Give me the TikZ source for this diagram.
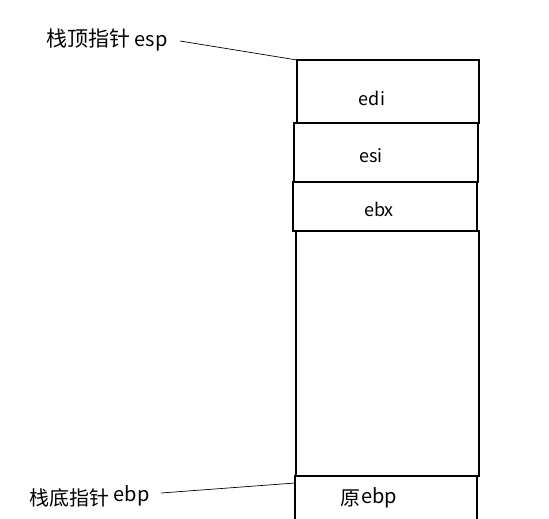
\documentclass[tikz,border=0pt]{standalone}
\usepackage{fontspec}
\setmainfont{Noto Sans CJK SC}
\begin{document}
\begin{tikzpicture}[x=1pt,y=-1pt,
  cell/.style={draw=black,line width=1.1pt,fill=none,inner sep=0pt,outer sep=0pt,anchor=north west},
  seam/.style={draw=black,line width=2pt},
  lbl/.style={inner sep=0pt,font=\fontsize{18}{20}\selectfont},
  side/.style={inner sep=0pt,font=\fontsize{20}{22}\selectfont,anchor=west},
  leader/.style={draw=black,line width=0.7pt}]
\useasboundingbox (0,0) rectangle (549,519);
\clip (0,0) rectangle (549,519);
\node[cell,minimum width=182pt,minimum height=63pt] (b1) at (297,60) {};
\node[cell,minimum width=184pt,minimum height=59pt] (b2) at (294,123) {};
\node[cell,minimum width=184pt,minimum height=49pt] (b3) at (293,182) {};
\node[cell,minimum width=183pt,minimum height=245pt] (b4) at (296,231) {};
\node[cell,minimum width=182pt,minimum height=70pt] (b5) at (295,476) {};
\draw[seam] (b1.south west) -- (b1.south east);
\draw[seam] (b3.south west) -- (b3.south east);
\draw[seam] (b4.south west) -- (b4.south east);
\node[lbl] (tedi) at (372,98) {edi};
\node[lbl] (tesi) at (371,156) {esi};
\node[lbl] (tebx) at (379,209) {ebx};
\node[side] (tebp) at (340,498) {原\hspace{1pt}\raisebox{2pt}{ebp}};
\node[side] (esp) at (46,40) {{\fontsize{21}{22}\selectfont 栈顶指针} esp};
\node[side] (ebp) at (29,496) {栈底指针 \raisebox{4pt}{ebp}};
\coordinate (espend) at (180,41);
\coordinate (ebpend) at (161,493);
\draw[leader] (espend) -- (b1.north west);
\draw[leader] (ebpend) -- ([yshift=-7pt]b5.north west);
\end{tikzpicture}
\end{document}
